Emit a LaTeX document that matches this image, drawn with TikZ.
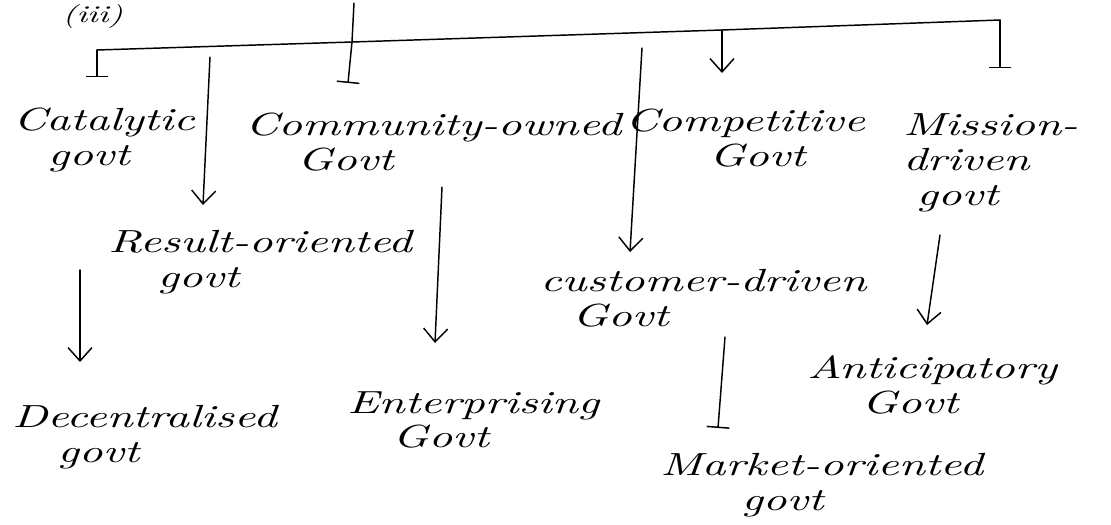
\documentclass[tikz,border=0pt]{standalone}
\usepackage{fontspec}
\usetikzlibrary{arrows.meta}
\newfontfamily\handfont{lmroman10-italic.otf}[FakeStretch=1.45]

\begin{document}
\begin{tikzpicture}[x=0.75pt,y=-0.75pt,
  hand/.style={anchor=west,align=left,inner sep=0pt,font=\handfont\fontsize{24}{26}\selectfont},
  pen/.style={line width=1.1pt,line cap=round,line join=round},
  vtip/.style={pen,-{Straight Barb[length=10pt,width=18pt]}},
  ttip/.style={pen,-{Bar[width=17pt]}}]
\fill[white] (0,0) rectangle (1111,525);
\useasboundingbox (0,0) rectangle (1111,525);

% bar of the tree
\coordinate (top) at (354,3);
\coordinate (barL) at (97,50);
\coordinate (barJ) at (352,42);
\coordinate (barC) at (722,30);
\coordinate (barR) at (1000,20);
\coordinate (resTop) at (210,57);
\coordinate (custTop) at (642,48);

\node[hand,font=\handfont\fontsize{18}{20}\selectfont] (num) at (62,16) {(iii)};

% the ten kinds of government
\node[hand] (cat) at (13,140) {Catalytic\\\hspace*{26pt}govt};
\node[hand] (comm) at (245,142) {Community-owned\\\hspace*{39pt}Govt};
\node[hand] (comp) at (625,138) {Competitive\\\hspace*{63pt}Govt};
\node[hand] (miss) at (903,163) {Mission-\\driven\\\hspace*{10pt}govt};
\node[hand] (res) at (108,262) {Result-oriented\\\hspace*{37pt}govt};
\node[hand] (cust) at (540,298) {customer-driven\\\hspace*{24pt}Govt};
\node[hand] (dec) at (12,437) {Decentralised\\\hspace*{34pt}govt};
\node[hand] (ent) at (347,420) {Enterprising\\\hspace*{34pt}Govt};
\node[hand] (mkt) at (660,485) {Market-oriented\\\hspace*{61pt}govt};
\node[hand] (ant) at (807,385) {Anticipatory\\\hspace*{41pt}Govt};

\draw[pen] (top) -- (barJ);
\draw[pen] (barL) -- (barJ) -- (barC) -- (barR);

\draw[ttip] (barL) -- ([shift={(84,-63)}]cat.west);
\draw[ttip] (barJ) -- ([shift={(103,-59)}]comm.west);
\draw[vtip] (barC) -- ([shift={(97,-65)}]comp.west);
\draw[ttip] (barR) -- ([shift={(97,-95)}]miss.west);
\draw[vtip] (resTop) -- ([shift={(95,-57)}]res.west);
\draw[vtip] (custTop) -- ([shift={(90,-46)}]cust.west);

\draw[vtip] ([shift={(-28,8)}]res.west) -- ([shift={(68,-75)}]dec.west);
\draw[vtip] ([shift={(197,45)}]comm.west) -- ([shift={(88,-77)}]ent.west);
\draw[ttip] ([shift={(185,39)}]cust.west) -- ([shift={(58,-57)}]mkt.west);
\draw[vtip] ([shift={(37,72)}]miss.west) -- ([shift={(120,-60)}]ant.west);
\end{tikzpicture}
\end{document}
